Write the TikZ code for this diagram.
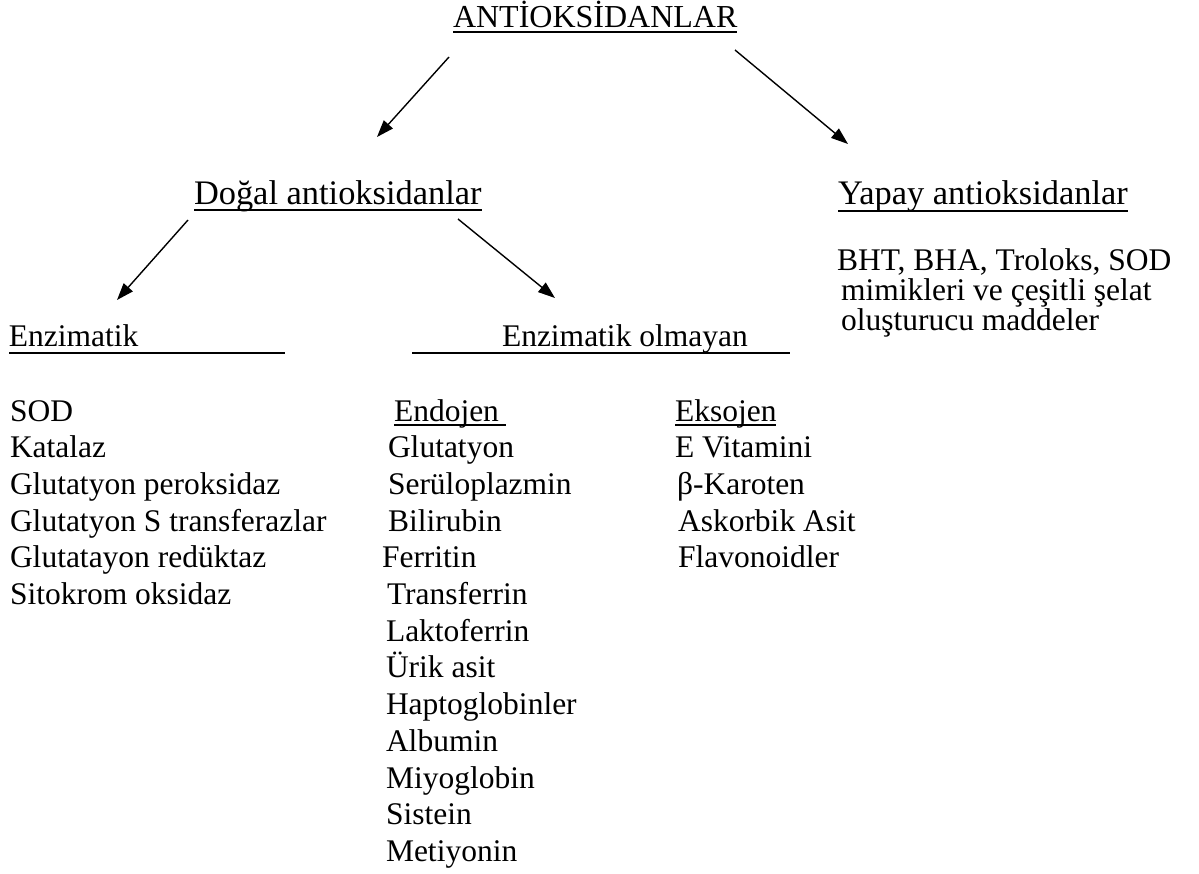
\documentclass[tikz,border=0pt]{standalone}
\usepackage{fontspec}
\setmainfont{Liberation Serif}
\usetikzlibrary{arrows.meta}
\begin{document}
\begin{tikzpicture}[x=1pt,y=-1pt,
  every node/.style={inner sep=0pt, outer sep=0pt, anchor=base west},
  lst/.style={font=\fontsize{31.5}{36.7}\selectfont},
  hdr/.style={font=\fontsize{34.4}{40}\selectfont},
  ttl/.style={font=\fontsize{32}{38}\selectfont},
  ul/.style={line width=1.8pt},
  arr/.style={line width=1.4pt, -{Triangle[length=17pt,width=12pt]}}]
\useasboundingbox[fill=white] (0,0) rectangle (1199,874);

% headings
\node[ttl] (title) at (453,28) {ANTİOKSİDANLAR};
\node[hdr] (dogal) at (194,205) {Doğal antioksidanlar};
\node[hdr] (yapay) at (838,205) {Yapay antioksidanlar};
\node[lst] (enz) at (9,347) {Enzimatik};
\node[lst] (nonenz) at (502,347) {Enzimatik olmayan};
\node[lst] (bht1) at (837,271) {BHT, BHA, Troloks, SOD};
\node[lst] (bht2) at (841,301) {mimikleri ve çeşitli şelat};
\node[lst] (bht3) at (841,331) {oluşturucu maddeler};

% underlines
\draw[ul] ([yshift=-4pt]title.base west) -- ([yshift=-4pt]title.base east);
\draw[ul] ([yshift=-5pt]dogal.base west) -- ([yshift=-5pt]dogal.base east);
\draw[ul] ([yshift=-6pt]yapay.base west) -- ([yshift=-6pt]yapay.base east);
\draw[ul] ([yshift=-6pt]enz.base west) -- ([yshift=-6pt,xshift=147pt]enz.base east);
\draw[ul] ([yshift=-6pt,xshift=-90pt]nonenz.base west) -- ([yshift=-6pt,xshift=42pt]nonenz.base east);

% arrows
\coordinate (a1s) at (449,57);  \coordinate (a1e) at (377,137);
\coordinate (a2s) at (735,50);  \coordinate (a2e) at (848,144);
\coordinate (a3s) at (188,220); \coordinate (a3e) at (117,300);
\coordinate (a4s) at (458,219); \coordinate (a4e) at (555,298);
\draw[arr] (a1s) -- (a1e);
\draw[arr] (a2s) -- (a2e);
\draw[arr] (a3s) -- (a3e);
\draw[arr] (a4s) -- (a4e);

% enzymatic list
\foreach \t [count=\i from 0] in {SOD, Katalaz, Glutatyon peroksidaz, Glutatyon S transferazlar, Glutatayon redüktaz, Sitokrom oksidaz}
  \node[lst] (e\i) at (10,421+36.7*\i) {\t};

% endogenous
\node[lst] (endo) at (394,421) {Endojen};
\draw[ul] ([yshift=-4pt]endo.base west) -- ([yshift=-4pt,xshift=7pt]endo.base east);
\node[lst] (n1) at (388,457.7) {Glutatyon};
\node[lst] (n2) at (388,494.4) {Serüloplazmin};
\node[lst] (n3) at (388,531.1) {Bilirubin};
\node[lst] (n4) at (382,567.8) {Ferritin};
\node[lst] (n5) at (387,604.5) {Transferrin};
\foreach \t [count=\i from 6] in {Laktoferrin, Ürik asit, Haptoglobinler, Albumin, Miyoglobin, Sistein, Metiyonin}
  \node[lst] (n\i) at (386,421+36.7*\i) {\t};

% exogenous
\node[lst] (exo) at (675,421) {Eksojen};
\draw[ul] ([yshift=-4pt]exo.base west) -- ([yshift=-4pt]exo.base east);
\node[lst] (x1) at (675,457.7) {E Vitamini};
\node[lst] (x2) at (677,494.4) {β-Karoten};
\node[lst] (x3) at (678,531.1) {Askorbik Asit};
\node[lst] (x4) at (678,567.8) {Flavonoidler};
\end{tikzpicture}
\end{document}
